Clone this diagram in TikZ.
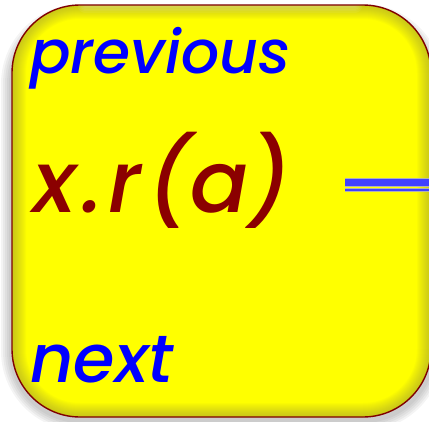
\documentclass[tikz,border=0pt]{standalone}
\usepackage{fontspec}
\setmainfont{Poppins}[ItalicFont={Poppins Medium Italic}]
\usepackage{tikz}
\usetikzlibrary{positioning}
\definecolor{boxyellow}{RGB}{255,255,0}
\definecolor{boxred}{RGB}{128,0,0}
\definecolor{wordblue}{RGB}{0,0,255}
\definecolor{callred}{RGB}{139,0,0}
\definecolor{barblue}{RGB}{64,64,255}

\begin{document}
\begin{tikzpicture}[x=1pt,y=-1pt,line cap=round,
  word/.style={inner sep=0pt,anchor=base west,font=\itshape},
  edge/.style={rounded corners=68}]
\useasboundingbox (0,0) rectangle (429,421);
% shadow
\foreach \s in {10,8,6,4,2}
  \fill[black,opacity=0.045,rounded corners=70+\s] (11-\s,14-\s) rectangle (433+\s,421+\s);
% box
\fill[boxyellow,edge] (12,5) rectangle (431,417);
\begin{scope}
\clip[edge] (12,5) rectangle (431,417);
\foreach \i in {1,...,14}
  \draw[black!55!yellow,line width=2*\i,opacity=0.035,edge] (12,5) rectangle (431,417);
\foreach \i in {1,...,5}
  \draw[white,line width=3*\i,opacity=0.06] (85,5) -- (355,5);
\end{scope}
\draw[boxred,line width=1.4,edge] (12,5) rectangle (431,417);
% labels
\node[word,wordblue,font=\itshape\fontsize{60}{60}\selectfont] (prev) at (30,73) {previous};
\node[word,callred,font=\itshape\fontsize{86}{86}\selectfont] (call) at (33,212)
  {x\kern6pt.\kern6pt r\kern6pt(a)};
\node[word,wordblue,font=\itshape\fontsize{67}{67}\selectfont] (next) at (30,382) {next};
% link going out
\coordinate (linkA) at (345,182.5);
\coordinate (linkB) at (440,182.5);
\coordinate (linkC) at (345,190);
\coordinate (linkD) at (440,190);
\draw[gray!60,line width=8.5,line cap=butt] (linkA) -- (linkB);
\draw[barblue,line width=7,line cap=butt] (linkA) -- (linkB);
\draw[gray!60,line width=3.5,line cap=butt] (linkC) -- (linkD);
\draw[barblue,line width=2,line cap=butt] (linkC) -- (linkD);
\end{tikzpicture}
\end{document}
